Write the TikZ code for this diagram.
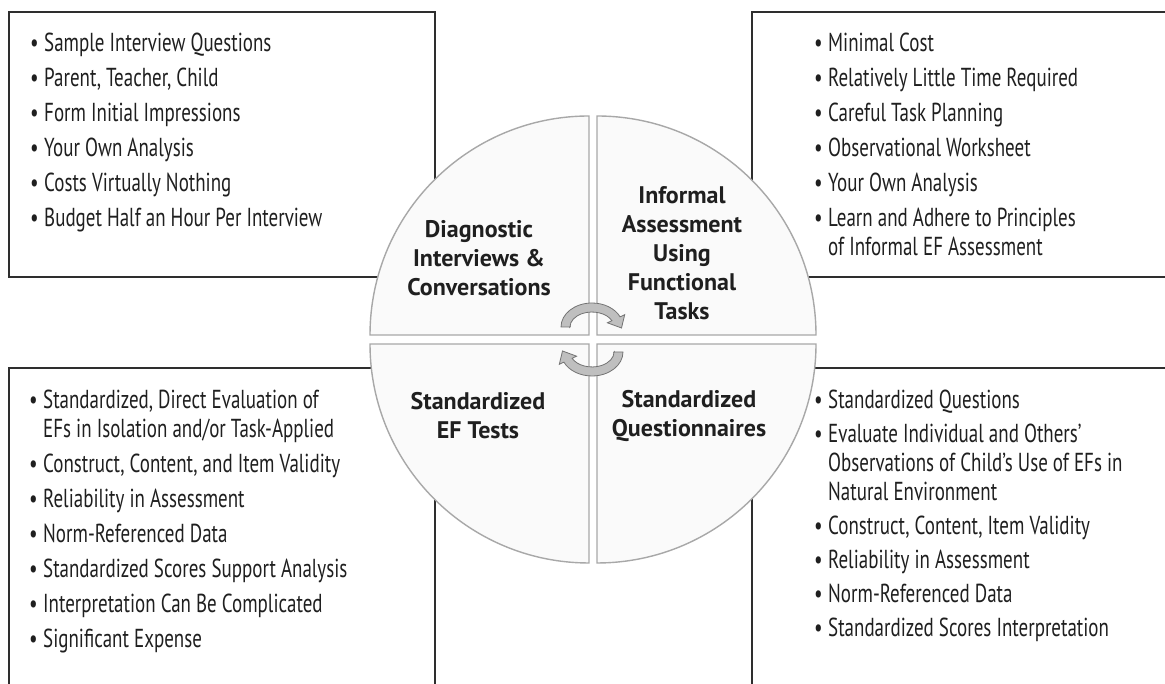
\documentclass[tikz,border=0pt]{standalone}
\usepackage{fontspec}
\newfontfamily\bodyfont[FakeStretch=0.73]{PT Sans}
\newfontfamily\labelfont{PT Sans}
\newcommand{\bul}{\makebox[14pt][l]{•}}
\newcommand{\ind}{\hspace*{14pt}}
\definecolor{quadfill}{HTML}{FAFAFA}
\definecolor{quadline}{HTML}{A8A8A8}
\begin{document}
\begin{tikzpicture}[x=1pt,y=1pt,
  boxline/.style={draw=black!82,line width=1.3pt},
  quad/.style={fill=quadfill,draw=quadline,line width=1.4pt},
  body/.style={font=\bodyfont\fontsize{26}{29}\selectfont,text=black!88,align=left,anchor=north west,inner sep=0pt},
  lab/.style={font=\labelfont\bfseries\fontsize{24}{29}\selectfont,align=center,text=black!88,inner sep=0pt},
  cyc/.style={fill=black!25,draw=black!55,line width=0.8pt}]
\useasboundingbox (0,0) rectangle (1165,684);
\clip (0,0) rectangle (1165,684);
\fill[white] (0,0) rectangle (1165,684);
% boxes
\draw[boxline] (9,672) rectangle (435,407);
\draw[boxline] (1175,672) -| (752,407) -- (1175,407);
\draw[boxline] (9,-10) |- (435,316) -- (435,-10);
\draw[boxline] (1175,316) -| (752,-10);
% quadrants
\draw[quad] (589,349) -- ++(-219,0) arc[start angle=180,end angle=90,radius=219] -- cycle;
\draw[quad] (597,349) -- ++(0,219) arc[start angle=90,end angle=0,radius=219] -- cycle;
\draw[quad] (589,340) -- ++(0,-219) arc[start angle=270,end angle=180,radius=219] -- cycle;
\draw[quad] (597,340) -- ++(219,0) arc[start angle=0,end angle=-90,radius=219] -- cycle;
% cycle arrows
\begin{scope}[shift={(592,357)}]
\draw[cyc] (-22,0) -- (-31,0) arc[start angle=180,end angle=25,x radius=31,y radius=24] -- (32.7,12.3) -- (29.5,-1) -- (15.4,4.2) -- (19.9,6.3) arc[start angle=25,end angle=180,x radius=22,y radius=15] -- cycle;
\end{scope}
\begin{scope}[shift={(592,332)},rotate=180]
\draw[cyc] (-22,0) -- (-31,0) arc[start angle=180,end angle=25,x radius=31,y radius=24] -- (32.7,12.3) -- (29.5,-1) -- (15.4,4.2) -- (19.9,6.3) arc[start angle=25,end angle=180,x radius=22,y radius=15] -- cycle;
\end{scope}
% labels
\node[lab] (diag) at (479,426) {Diagnostic\\Interviews \&\\Conversations};
\node[lab] (inf) at (682,431) {Informal\\Assessment\\Using\\Functional\\Tasks};
\node[lab] (sef) at (478,268) {Standardized\\EF Tests};
\node[lab] (sq) at (689,268) {Standardized\\Questionnaires};
% box texts
\node[body] (tl) at (30,651) {\bul Sample Interview Questions\\[6pt]
\bul Parent, Teacher, Child\\[6pt]
\bul Form Initial Impressions\\[6pt]
\bul Your Own Analysis\\[6pt]
\bul Costs Virtually Nothing\\[6pt]
\bul Budget Half an Hour Per Interview};
\node[body] (tr) at (814,651) {\bul Minimal Cost\\[6pt]
\bul Relatively Little Time Required\\[6pt]
\bul Careful Task Planning\\[6pt]
\bul Observational Worksheet\\[6pt]
\bul Your Own Analysis\\[6pt]
\bul Learn and Adhere to Principles\\
\ind of Informal EF Assessment};
\node[body] (bl) at (29,294) {\bul Standardized, Direct Evaluation of\\
\ind EFs in Isolation and/or Task-Applied\\[6pt]
\bul Construct, Content, and Item Validity\\[6pt]
\bul Reliability in Assessment\\[6pt]
\bul Norm-Referenced Data\\[6pt]
\bul Standardized Scores Support Analysis\\[6pt]
\bul Interpretation Can Be Complicated\\[6pt]
\bul Significant Expense};
\node[body] (br) at (814,294) {\bul Standardized Questions\\[5pt]
\bul Evaluate Individual and Others’\\
\ind Observations of Child’s Use of EFs in\\
\ind Natural Environment\\[5pt]
\bul Construct, Content, Item Validity\\[5pt]
\bul Reliability in Assessment\\[5pt]
\bul Norm-Referenced Data\\[5pt]
\bul Standardized Scores Interpretation};
\end{tikzpicture}
\end{document}
